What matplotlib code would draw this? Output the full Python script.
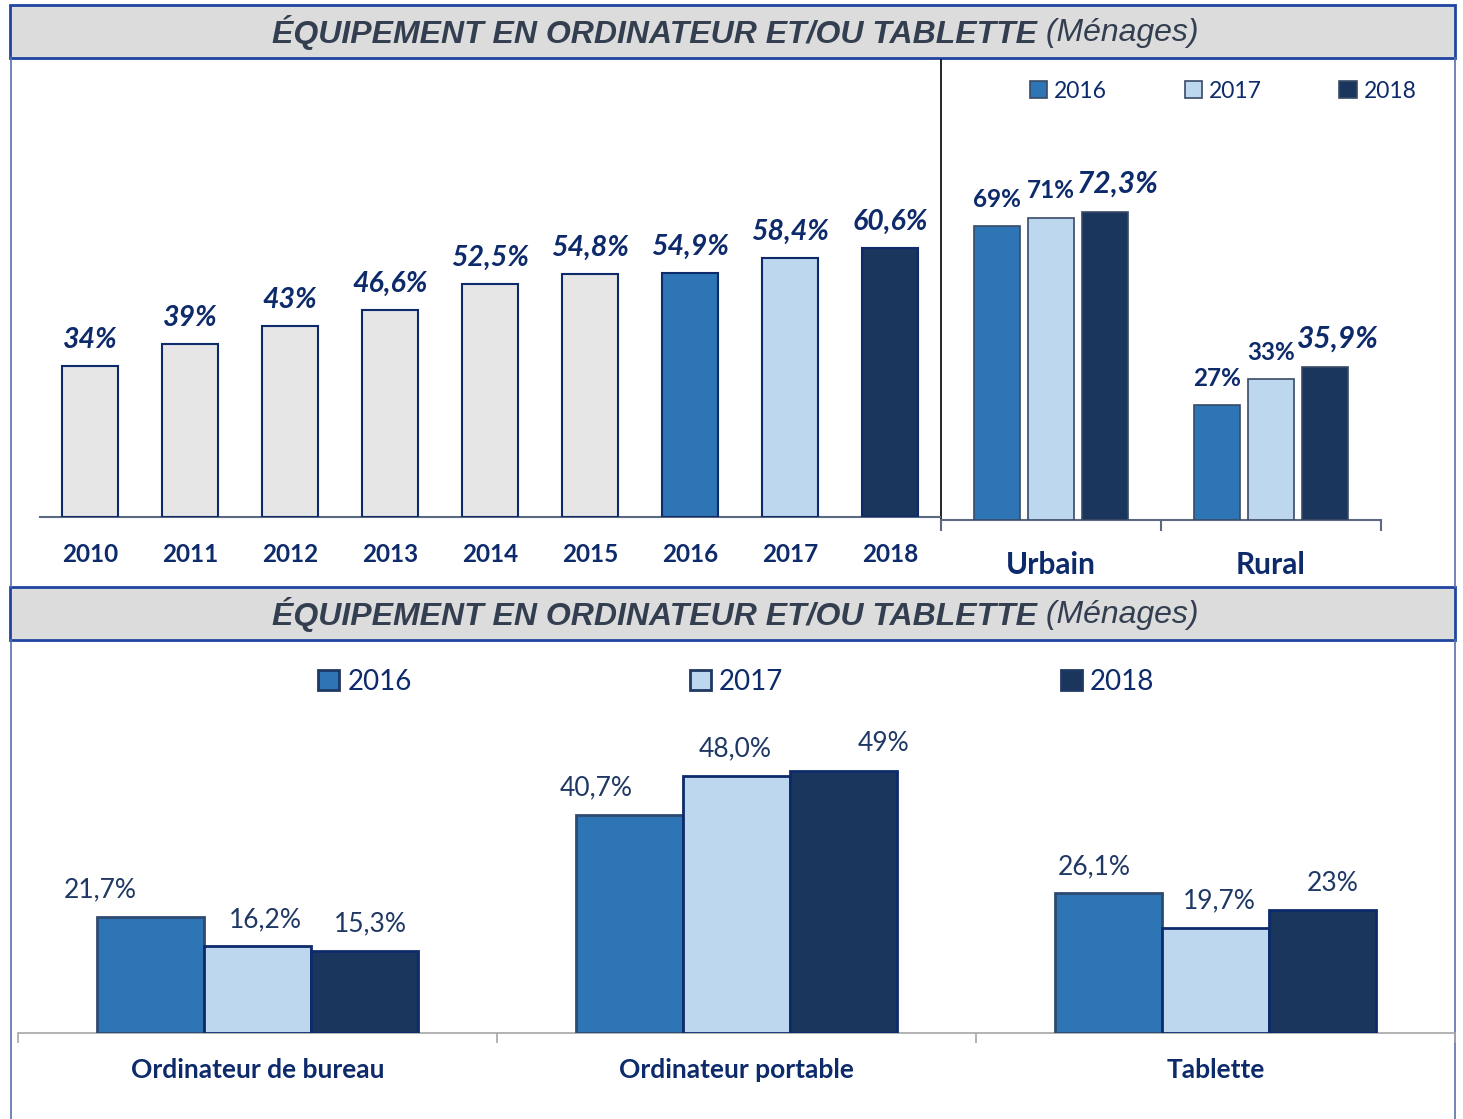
import matplotlib
matplotlib.use("Agg")
import matplotlib.pyplot as plt
from matplotlib.patches import Rectangle, Patch
import numpy as np

# ---- data ----
years = ["2010", "2011", "2012", "2013", "2014", "2015", "2016", "2017", "2018"]
equip_values = [34, 39, 43, 46.6, 52.5, 54.8, 54.9, 58.4, 60.6]
equip_labels = ["34%", "39%", "43%", "46,6%", "52,5%", "54,8%", "54,9%", "58,4%", "60,6%"]

zones = ["Urbain", "Rural"]
series_years = ["2016", "2017", "2018"]
zone_values = {
    "2016": [69, 27],
    "2017": [71, 33],
    "2018": [72.3, 35.9],
}
zone_labels = {
    "2016": ["69%", "27%"],
    "2017": ["71%", "33%"],
    "2018": ["72,3%", "35,9%"],
}

devices = ["Ordinateur de bureau", "Ordinateur portable", "Tablette"]
device_values = {
    "2016": [21.7, 40.7, 26.1],
    "2017": [16.2, 48.0, 19.7],
    "2018": [15.3, 49, 23],
}
device_labels = {
    "2016": ["21,7%", "40,7%", "26,1%"],
    "2017": ["16,2%", "48,0%", "19,7%"],
    "2018": ["15,3%", "49%", "23%"],
}

# ---- style ----
W, H = 1463, 1119
NAVY = "#0D2A6B"
LBL = "#1F3864"
C16, C17, C18 = "#2E75B6", "#BDD7EE", "#1A365D"
year_colors = {"2016": C16, "2017": C17, "2018": C18}
GREY_BAR = "#E6E6E6"
FONT = "Lato"


def box(x0, y0, x1, y1):
    return [x0 / W, 1 - y1 / H, (x1 - x0) / W, (y1 - y0) / H]


fig = plt.figure(figsize=(W / 100, H / 100), dpi=100)

# background frame in pixel coordinates
bg = fig.add_axes([0, 0, 1, 1])
bg.set_xlim(0, W)
bg.set_ylim(H, 0)
bg.axis("off")
for (y0, y1) in [(5, 58), (587, 640)]:
    bg.add_patch(Rectangle((10, y0), 1445, y1 - y0, facecolor="#DCDCDC",
                           edgecolor="#1F45A0", lw=2))
for (y0, y1) in [(58, 587), (640, 1119)]:
    bg.plot([11, 11], [y0, y1], color="#5A6FA8", lw=1.2)
    bg.plot([1455, 1455], [y0, y1], color="#5A6FA8", lw=1.2)
bg.plot([941, 941], [60, 520], color="black", lw=1.2)

# titles (bold italic part + italic part)
fig.canvas.draw()
renderer = fig.canvas.get_renderer()
for yc in [33, 615]:
    t1 = bg.text(0, yc, "ÉQUIPEMENT EN ORDINATEUR ET/OU TABLETTE", fontsize=23,
                 fontweight="bold", fontstyle="italic", family="Liberation Sans",
                 color="#333F50", ha="left", va="center")
    t2 = bg.text(0, yc, " (Ménages)", fontsize=23, fontstyle="italic",
                 family="Liberation Sans", color="#333F50", ha="left", va="center")
    w1 = t1.get_window_extent(renderer).width
    w2 = t2.get_window_extent(renderer).width
    x0 = 735 - (w1 + w2) / 2
    t1.set_x(x0)
    t2.set_x(x0 + w1)

# ---- top left: yearly bars ----
ax1 = fig.add_axes(box(40, 60, 940, 517))
x = np.arange(len(years))
colors1 = [GREY_BAR] * 6 + [C16, C17, C18]
ax1.bar(x, equip_values, width=0.56, color=colors1, edgecolor=NAVY, lw=1.5, zorder=3)
for xi, v, lab in zip(x, equip_values, equip_labels):
    ax1.annotate(lab, (xi, v), xytext=(0, 13), textcoords="offset points",
                 ha="center", va="baseline", fontsize=20.5, fontweight="bold",
                 fontstyle="italic", color=NAVY, family=FONT)
ax1.set_xlim(-0.5, len(years) - 0.5)
ax1.set_ylim(0, 457 / 4.44)
ax1.set_xticks(x)
ax1.set_xticklabels(years, fontsize=17.5, fontweight="bold", color=NAVY, family=FONT)
ax1.tick_params(axis="x", length=0, pad=19)
ax1.set_yticks([])
for s in ["left", "right", "top"]:
    ax1.spines[s].set_visible(False)
ax1.spines["bottom"].set_color("#5B6A80")
ax1.spines["bottom"].set_linewidth(1.5)
ax1.patch.set_alpha(0)

# ---- top right: urbain / rural ----
ax2 = fig.add_axes(box(941, 60, 1381, 520))
xz = np.arange(len(zones))
for i, yr in enumerate(series_years):
    pos = xz + (i - 1) * 0.245
    ax2.bar(pos, zone_values[yr], width=0.21, color=year_colors[yr],
            edgecolor="#3A4A66", lw=1.2, zorder=3, label=yr)
    for j, (p, v, lab) in enumerate(zip(pos, zone_values[yr], zone_labels[yr])):
        big = yr == "2018"
        ax2.annotate(lab, (p, v), xytext=(9 if big else 0, 14), textcoords="offset points",
                     ha="center", va="baseline", fontsize=21.5 if big else 17.5,
                     fontweight="bold", fontstyle="italic" if big else "normal",
                     color=NAVY, family=FONT)
ax2.set_xlim(-0.5, 1.5)
ax2.set_ylim(0, 460 / 4.26)
ax2.set_xticks(xz)
ax2.set_xticklabels(zones, fontsize=21.5, fontweight="bold", color=NAVY, family=FONT)
ax2.set_xticks([-0.5, 0.5, 1.5], minor=True)
ax2.tick_params(axis="x", which="major", length=0, pad=22)
ax2.tick_params(axis="x", which="minor", length=8, width=1.5, color="#5B6A80")
ax2.set_yticks([])
for s in ["left", "right", "top"]:
    ax2.spines[s].set_visible(False)
ax2.spines["bottom"].set_color("#5B6A80")
ax2.spines["bottom"].set_linewidth(1.5)
ax2.patch.set_alpha(0)
ax2.legend(loc="center", bbox_to_anchor=(0.5 + 62 / 440, 1 - 31 / 460), ncol=3,
           frameon=False, handlelength=0.75, handleheight=0.75,
           handletextpad=0.3, columnspacing=3.4, labelcolor=NAVY,
           prop={"family": FONT, "size": 16.5})

# ---- bottom: devices ----
ax3 = fig.add_axes(box(18, 640, 1455, 1033))
xd = np.arange(len(devices))
dx_pts = {"2016": [-36, -24, -10], "2017": [6, -1, 3], "2018": [4, 29, 7]}
edge3 = {"2016": "#2F4A70", "2017": NAVY, "2018": NAVY}
for i, yr in enumerate(series_years):
    pos = xd + (i - 1) * 0.2234
    ax3.bar(pos, device_values[yr], width=0.2234, color=year_colors[yr],
            edgecolor=edge3[yr], lw=2, zorder=3, label=yr)
    for p, v, lab, dx in zip(pos, device_values[yr], device_labels[yr], dx_pts[yr]):
        ax3.annotate(lab, (p, v), xytext=(dx, 14), textcoords="offset points",
                     ha="center", va="baseline", fontsize=19, color=LBL, family=FONT)
ax3.set_xlim(-0.5, 2.5)
ax3.set_ylim(0, 393 / 5.35)
ax3.set_xticks(xd)
ax3.set_xticklabels(devices, fontsize=19, fontweight="bold", color=NAVY, family=FONT)
ax3.set_xticks([-0.5, 0.5, 1.5, 2.5], minor=True)
ax3.tick_params(axis="x", which="major", length=0, pad=18)
ax3.tick_params(axis="x", which="minor", length=7, width=1.2, color="#A6A6A6")
ax3.set_yticks([])
for s in ["left", "right", "top"]:
    ax3.spines[s].set_visible(False)
ax3.spines["bottom"].set_color("#A6A6A6")
ax3.spines["bottom"].set_linewidth(1.2)
ax3.patch.set_alpha(0)
handles = [Patch(facecolor=year_colors[yr], edgecolor="#1F3864", lw=2) for yr in series_years]
ax3.legend(handles, series_years, loc="center", bbox_to_anchor=(0.5, 1 - 42 / 393),
           ncol=3, frameon=False, handlelength=0.75, handleheight=0.75,
           handletextpad=0.3, columnspacing=10.0, labelcolor=NAVY,
           prop={"family": FONT, "size": 20})

fig.savefig("out.png", dpi=100)
